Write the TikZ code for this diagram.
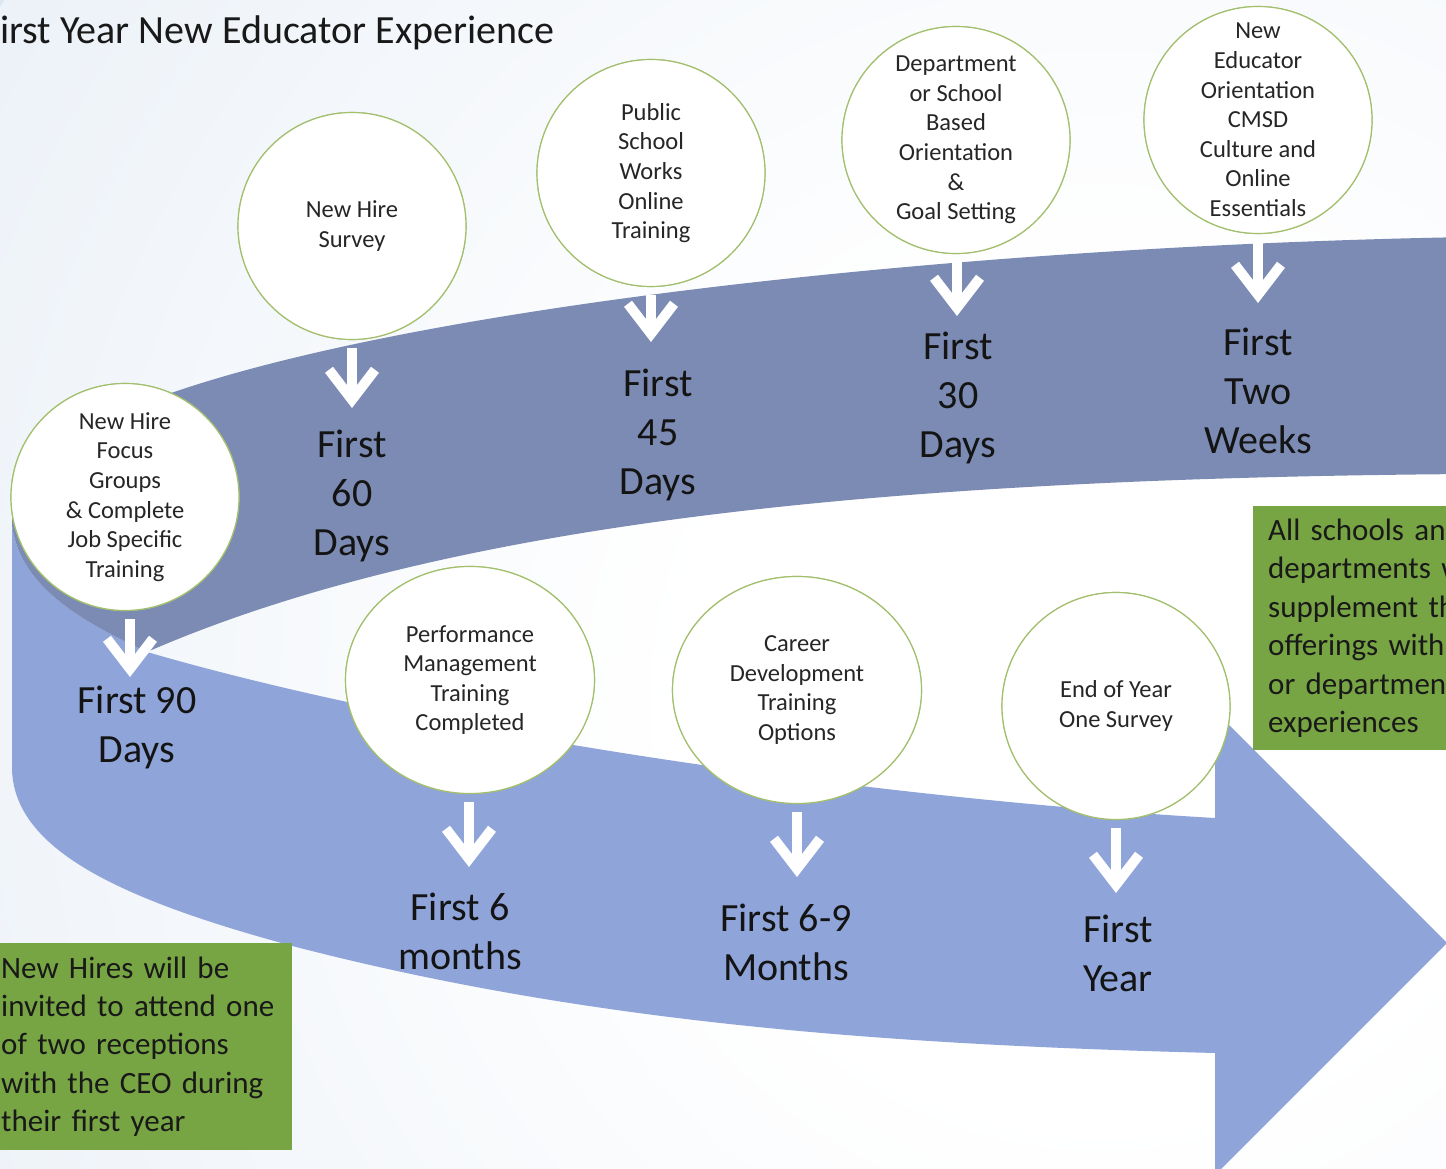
\documentclass[tikz,border=0pt]{standalone}
\usepackage{fontspec}
\setmainfont{Carlito}
\usetikzlibrary{shapes.geometric,arrows.meta}
\definecolor{bgblue}{HTML}{DCE6F2}
\definecolor{darkband}{HTML}{7B8BB3}
\definecolor{lightband}{HTML}{8FA4D9}
\definecolor{boxgreen}{HTML}{77A543}
\definecolor{rimgreen}{HTML}{A3BF6E}
\definecolor{inktext}{HTML}{141414}
\pgfdeclareradialshading{bgshade}{\pgfpoint{0bp}{0bp}}{color(0bp)=(white); color(8bp)=(white); color(40bp)=(bgblue); color(50bp)=(bgblue)}
\begin{document}
\begin{tikzpicture}[x=1pt,y=-1pt,
  event/.style={ellipse, draw=rimgreen, line width=1.2pt, fill=white,
    minimum width=228pt, minimum height=227pt, inner sep=0pt},
  wideevent/.style={event, minimum width=249pt},
  evtext/.style={align=center, inner sep=0pt, text=black!85,
    font=\fontsize{24.5}{29.6}\selectfont},
  period/.style={align=center, inner sep=0pt, text=inktext,
    font=\fontsize{40}{49}\selectfont},
  greenbox/.style={fill=boxgreen, anchor=north west, align=left, text=black!90,
    font=\fontsize{31}{38.4}\selectfont, inner ysep=0pt},
  warrow/.style={draw=white, line width=10pt, -{Straight Barb[length=30pt,width=46pt]}}
]
\useasboundingbox (0,0) rectangle (1446,1169);
\clip (0,0) rectangle (1446,1169);
% background
\fill[bgblue] (0,0) rectangle (1446,1169);
\shade[shading=bgshade] (1100,700) circle (1300pt);

% lower (front) band with arrow head
\fill[lightband] (12,525) -- (12,770)
  .. controls (15,850) and (120,900) .. (300,948)
  .. controls (600,1025) and (900,1045) .. (1215,1053)
  -- (1215,1175) -- (1447,943) -- (1215,711) -- (1215,818)
  .. controls (900,800) and (450,740) .. (147,652)
  .. controls (90,625) and (20,590) .. (12,525) -- cycle;

% upper (back) band
\fill[darkband] (1470,237)
  .. controls (1000,245) and (450,300) .. (180,390)
  .. controls (60,430) and (12,480) .. (12,525)
  .. controls (20,590) and (90,625) .. (147,652)
  .. controls (450,520) and (900,478) .. (1470,474) -- cycle;

% arrow tips
\coordinate (t1) at (130,677);
\coordinate (t2) at (352,408);
\coordinate (t3) at (651,342);
\coordinate (t4) at (957,316);
\coordinate (t5) at (1258,303);
\coordinate (t6) at (469,867);
\coordinate (t7) at (797,877);
\coordinate (t8) at (1116,893);

% circles
\node[event] (c1) at (125,497) {};
\node[event] (c2) at (352,226) {};
\node[event] (c3) at (651,173) {};
\node[event] (c4) at (956,140) {};
\node[event] (c5) at (1258,120) {};
\node[wideevent] (c6) at (470,680) {};
\node[wideevent] (c7) at (797,690) {};
\node[event] (c8) at (1116,706) {};

% arrows
\begin{scope}[on background layer/.style={}]
\draw[warrow] ([yshift=-8pt]t1 |- c1.south) -- (t1);
\draw[warrow] ([yshift=-8pt]t2 |- c2.south) -- (t2);
\draw[warrow] ([yshift=-8pt]t3 |- c3.south) -- (t3);
\draw[warrow] ([yshift=-8pt]t4 |- c4.south) -- (t4);
\draw[warrow] ([yshift=-8pt]t5 |- c5.south) -- (t5);
\draw[warrow] ([yshift=-8pt]t6 |- c6.south) -- (t6);
\draw[warrow] ([yshift=-8pt]t7 |- c7.south) -- (t7);
\draw[warrow] ([yshift=-8pt]t8 |- c8.south) -- (t8);
\end{scope}

% redraw circles over the arrow starts
\node[event] at (c1) {};
\node[event] at (c2) {};
\node[event] at (c3) {};
\node[event] at (c4) {};
\node[event] at (c5) {};
\node[wideevent] at (c6) {};
\node[wideevent] at (c7) {};
\node[event] at (c8) {};

% circle texts
\node[evtext] (e1) at (c1) {New Hire\\Focus\\Groups\\\& Complete\\Job Specific\\Training};
\node[evtext] (e2) at (c2) {New Hire\\Survey};
\node[evtext] (e3) at (c3) {Public\\School\\Works\\Online\\Training};
\node[evtext] (e4) at (c4) {Department\\or School\\Based\\Orientation\\\&\\Goal Setting};
\node[evtext] (e5) at (c5) {New\\Educator\\Orientation\\CMSD\\Culture and\\Online\\Essentials};
\node[evtext] (e6) at (c6) {Performance\\Management\\Training\\Completed};
\node[evtext] (e7) at (c7) {Career\\Development\\Training\\Options};
\node[evtext] (e8) at (c8) {End of Year\\One Survey};

% period labels
\node[period] (l1) at (137,727) {First 90\\Days};
\node[period] (l2) at (352,496) {First\\60\\Days};
\node[period] (l3) at (658,435) {First\\45\\Days};
\node[period] (l4) at (958,398) {First\\30\\Days};
\node[period] (l5) at (1258,391) {First\\Two\\Weeks};
\node[period] (l6) at (460,931) {First 6\\months};
\node[period] (l7) at (786,942) {First 6-9\\Months};
\node[period] (l8) at (1118,953) {First\\Year};

% notes
\node[greenbox, inner xsep=6pt, text width=285pt, minimum height=207pt] (n1) at (-5,943)
  {New Hires will be\\invited to attend one\\of two receptions\\with the CEO during\\their first year};
\node[greenbox, inner xsep=15pt, text width=320pt, minimum height=244pt] (n2) at (1253,506)
  {All schools and\\departments will\\supplement these\\offerings with\\or department\\experiences};

% title
\node[anchor=base west, inner sep=0pt, text=black!90, font=\fontsize{40}{48}\selectfont] (title) at (-18.4,44)
  {First Year New Educator Experience};
\end{tikzpicture}
\end{document}
